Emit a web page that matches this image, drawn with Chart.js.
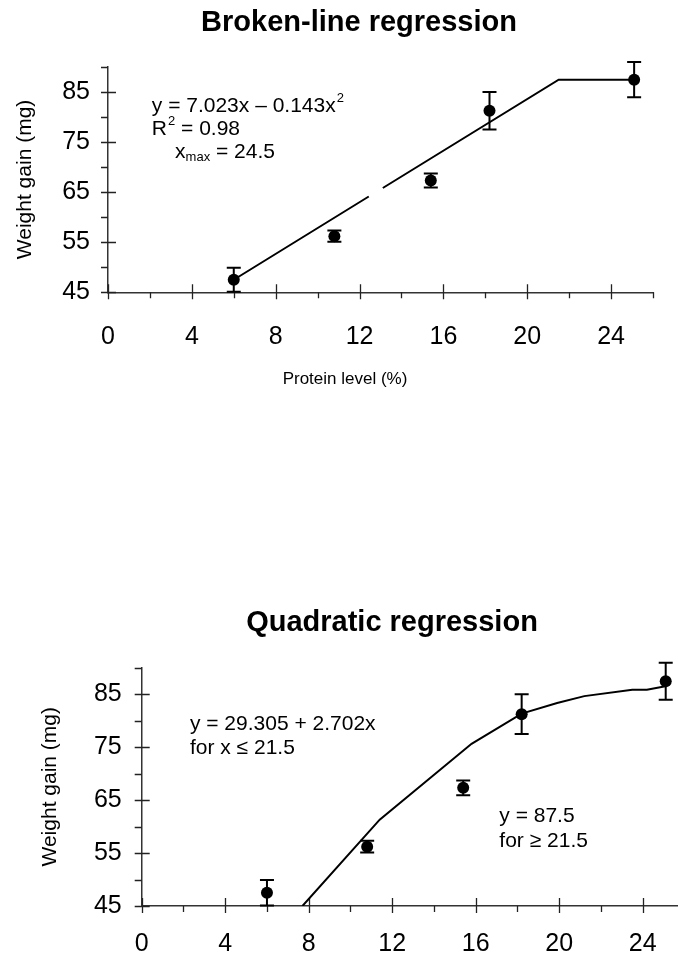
<!DOCTYPE html>
<html>
<head>
<meta charset="utf-8">
<script src="https://cdn.jsdelivr.net/npm/chart.js@4.4.1/dist/chart.umd.min.js"></script>
<style>
    html, body { margin: 0; padding: 0; background: #fff; overflow: hidden; width: 678px; height: 958px; }
    .chart-box { position: absolute; left: 0; }
    #broken-box { top: 0; width: 718px; height: 400px; }
    #quadratic-box { top: 560px; width: 784px; height: 398px; }
</style>
</head>
<body>
<div class="chart-box" id="broken-box"><canvas id="broken-chart"></canvas></div>
<div class="chart-box" id="quadratic-box"><canvas id="quadratic-chart"></canvas></div>
<script>
// observed means, same data in both panels
const proteinLevels = [6, 10.8, 15.4, 18.2, 25.1];
const weightGain = [47.5, 56.2, 67.3, 81.2, 87.4];
const weightGainErr = [2.4, 1.1, 1.4, 3.75, 3.5];

// fitted line of the top panel (small gap where the label box cut it)
const brokenFitX = [6, 12.44, 12.8, 13.11, 21.5, 25.1];
const brokenFitY = [47.5, 64.1, null, 65.8, 87.4, 87.4];

// fitted curve of the bottom panel
const quadFitX = [7.7, 11.4, 15.8, 18.2, 19.9, 21.2, 23.5, 24.2, 25.15];
const quadFitY = [45, 61.3, 75.6, 81.3, 83.3, 84.6, 85.8, 85.8, 86.5];

// labelled ticks
const xTicks = [0, 4, 8, 12, 16, 20, 24];
const yTicks = [45, 55, 65, 75, 85];

const fontFamily = "'Liberation Sans', Arial, Helvetica, sans-serif";

function pointsFrom(xs, ys) {
    return xs.map((x, i) => ({ x: x, y: ys[i] }));
}

// major ticks cross the axis, minor ones only sit outside
const axisTicksPlugin = {
    id: 'axisTicks',
    beforeDatasetsDraw(chart) {
        const ctx = chart.ctx;
        const xs = chart.scales.x, ys = chart.scales.y;
        const area = chart.chartArea;
        ctx.save();
        ctx.strokeStyle = '#222';
        ctx.lineWidth = 1.3;
        ctx.beginPath();
        xs.ticks.forEach(t => {
            const px = Math.round(xs.getPixelForValue(t.value)) + 0.5;
            const major = xTicks.includes(t.value);
            ctx.moveTo(px, area.bottom - (major ? 8 : 0));
            ctx.lineTo(px, area.bottom + (major ? 7 : 6));
        });
        ys.ticks.forEach(t => {
            const py = Math.round(ys.getPixelForValue(t.value)) + 0.5;
            const major = yTicks.includes(t.value);
            ctx.moveTo(area.left - 7, py);
            ctx.lineTo(area.left + (major ? 8 : 0), py);
        });
        ctx.stroke();
        ctx.restore();
    }
};

const errorBarsPlugin = {
    id: 'errorBars',
    beforeDatasetsDraw(chart) {
        const ctx = chart.ctx;
        const xs = chart.scales.x, ys = chart.scales.y;
        chart.data.datasets.forEach(ds => {
            if (!ds.errorBars) return;
            ctx.save();
            ctx.strokeStyle = '#000';
            ctx.lineWidth = 2;
            ds.data.forEach((p, i) => {
                const e = ds.errorBars[i];
                const px = xs.getPixelForValue(p.x);
                const top = ys.getPixelForValue(p.y + e);
                const bot = ys.getPixelForValue(p.y - e);
                ctx.beginPath();
                ctx.moveTo(px, top); ctx.lineTo(px, bot);
                ctx.moveTo(px - 7, top); ctx.lineTo(px + 7, top);
                ctx.moveTo(px - 7, bot); ctx.lineTo(px + 7, bot);
                ctx.stroke();
            });
            ctx.restore();
        });
    }
};

// equation labels, with super/subscripts
const notesPlugin = {
    id: 'notes',
    afterDatasetsDraw(chart, args, opts) {
        const ctx = chart.ctx;
        const xs = chart.scales.x, ys = chart.scales.y;
        ctx.save();
        ctx.fillStyle = '#000';
        ctx.textBaseline = 'alphabetic';
        (opts.items || []).forEach(item => {
            let x = xs.getPixelForValue(item.x);
            const y = ys.getPixelForValue(item.y);
            item.parts.forEach(part => {
                if (typeof part === 'string') {
                    ctx.font = '21px ' + fontFamily;
                    ctx.fillText(part, x, y);
                    x += ctx.measureText(part).width;
                } else if (part.sup) {
                    ctx.font = '13px ' + fontFamily;
                    ctx.fillText(part.sup, x + 1, y - 10);
                    x += ctx.measureText(part.sup).width + 1;
                } else if (part.sub) {
                    ctx.font = '13px ' + fontFamily;
                    ctx.fillText(part.sub, x, y + 3);
                    x += ctx.measureText(part.sub).width;
                }
            });
        });
        if (opts.caption) {
            ctx.font = '17px ' + fontFamily;
            ctx.textAlign = 'center';
            ctx.fillText(opts.caption.text, opts.caption.px, opts.caption.py);
        }
        ctx.restore();
    }
};

function buildChart(canvasId, cfg) {
    return new Chart(document.getElementById(canvasId), {
        type: 'scatter',
        data: {
            datasets: [
                {
                    data: cfg.fit,
                    showLine: true,
                    borderColor: '#000',
                    borderWidth: 2,
                    pointRadius: 0,
                    spanGaps: false,
                    order: 2
                },
                {
                    data: pointsFrom(proteinLevels, weightGain),
                    errorBars: weightGainErr,
                    pointRadius: 6,
                    pointBackgroundColor: '#000',
                    pointBorderColor: '#000',
                    pointBorderWidth: 0,
                    clip: false,
                    order: 1
                }
            ]
        },
        options: {
            responsive: true,
            maintainAspectRatio: false,
            animation: false,
            layout: { padding: 0 },
            plugins: {
                legend: { display: false },
                tooltip: { enabled: false },
                title: {
                    display: true,
                    text: cfg.title,
                    color: '#000',
                    font: { family: fontFamily, size: 29, weight: 'bold' },
                    padding: { top: cfg.titleTop, bottom: cfg.titleBottom }
                },
                notes: { items: cfg.notes, caption: cfg.caption }
            },
            scales: {
                x: {
                    type: 'linear',
                    min: 0,
                    max: 26,
                    grid: { display: false, drawTicks: false, tickLength: 0 },
                    border: { display: true, color: '#333', width: 1.5 },
                    ticks: {
                        stepSize: 2,
                        autoSkip: false,
                        maxRotation: 0,
                        padding: cfg.xPad,
                        color: '#000',
                        font: { family: fontFamily, size: 25 },
                        callback: v => xTicks.includes(v) ? String(v) : ''
                    },
                    afterFit: s => { s.height = cfg.xHeight; }
                },
                y: {
                    min: 45,
                    max: 90,
                    grid: { display: false, drawTicks: false, tickLength: 0 },
                    border: { display: true, color: '#333', width: 1.5 },
                    ticks: {
                        stepSize: 5,
                        autoSkip: false,
                        padding: cfg.yPad,
                        color: '#000',
                        font: { family: fontFamily, size: 25 },
                        callback: v => yTicks.includes(v) ? String(v) : ''
                    },
                    title: {
                        display: true,
                        text: 'Weight gain (mg)',
                        color: '#000',
                        font: { family: fontFamily, size: 21 },
                        padding: { top: cfg.yTitleTop, bottom: 0 }
                    },
                    afterFit: s => { s.width = cfg.yWidth; }
                },
                // empty right-hand axis, only reserves room so the title stays centred on the canvas
                spacer: {
                    type: 'linear',
                    position: 'right',
                    grid: { display: false, drawTicks: false },
                    border: { display: false },
                    ticks: { display: false },
                    afterFit: s => { s.width = cfg.rightRoom; }
                }
            }
        },
        plugins: [axisTicksPlugin, errorBarsPlugin, notesPlugin]
    });
}

buildChart('broken-chart', {
    title: 'Broken-line regression',
    fit: pointsFrom(brokenFitX, brokenFitY),
    rightRoom: 65,
    titleTop: 5.6,
    titleBottom: 26.2,
    xHeight: 107.7,
    xPad: 29.7,
    yWidth: 108,
    yPad: 18,
    yTitleTop: 12.4,
    notes: [
        { x: 2.09, y: 81.0, parts: ['y = 7.023x \u2013 0.143x', { sup: '2' }] },
        { x: 2.09, y: 76.4, parts: ['R', { sup: '2' }, ' = 0.98'] },
        { x: 3.2, y: 71.7, parts: ['x', { sub: 'max' }, ' = 24.5'] }
    ],
    caption: { text: 'Protein level (%)', px: 345, py: 384 }
});

buildChart('quadratic-chart', {
    title: 'Quadratic regression',
    fit: pointsFrom(quadFitX, quadFitY),
    rightRoom: 99.5,
    titleTop: 45.6,
    titleBottom: 27.1,
    xHeight: 52,
    xPad: 23,
    yWidth: 141.7,
    yPad: 20,
    yTitleTop: 37.4,
    notes: [
        { x: 2.31, y: 78.3, parts: ['y = 29.305 + 2.702x'] },
        { x: 2.31, y: 73.6, parts: ['for x \u2264 21.5'] },
        { x: 17.13, y: 60.85, parts: ['y = 87.5'] },
        { x: 17.13, y: 56.1, parts: ['for \u2265 21.5'] }
    ]
});
</script>
</body>
</html>
